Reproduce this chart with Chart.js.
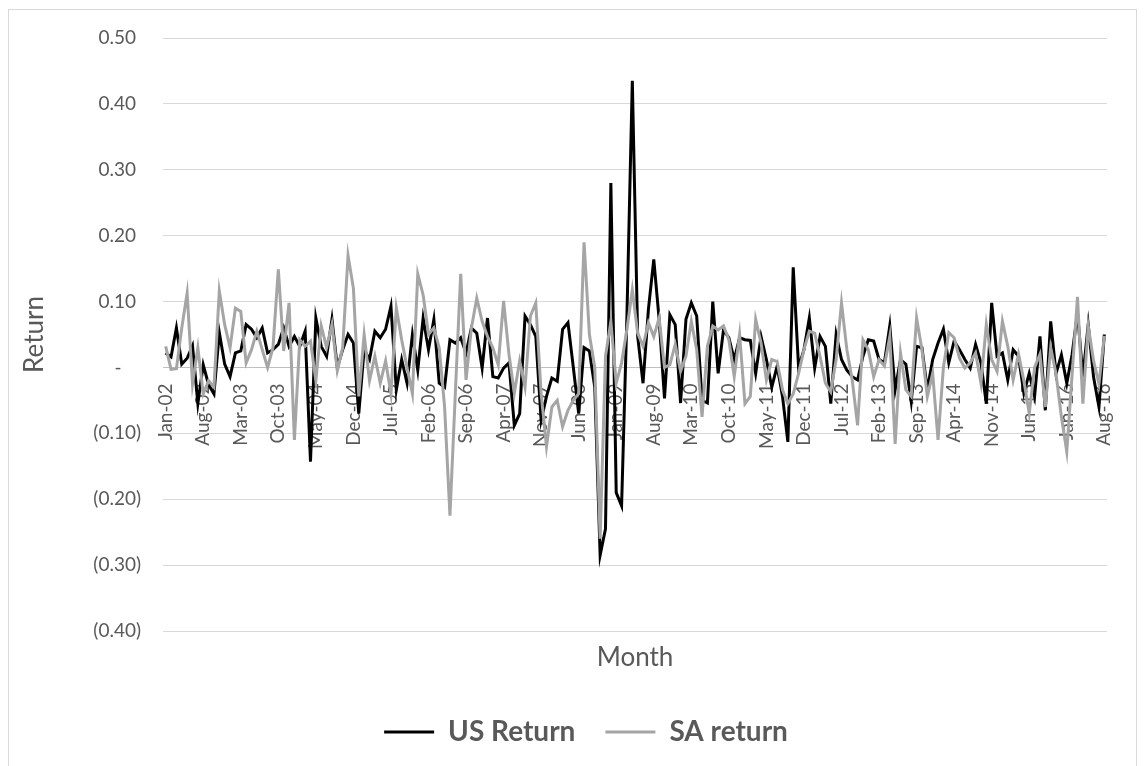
<!DOCTYPE html>
<html>
<head>
<meta charset="utf-8">
<script src="https://cdn.jsdelivr.net/npm/chart.js"></script>
<style>
  html, body { margin: 0; padding: 0; background: #ffffff; }
  #wrap { position: relative; width: 1148px; height: 766px; overflow: hidden; }
  #okvir { position: absolute; left: 8px; top: 9px; width: 1129px; height: 770px; border: 1px solid #d9d9d9; box-sizing: border-box; }
  canvas { position: absolute; left: 0; top: 0; }
</style>
</head>
<body>
<div id="wrap">
  <div id="okvir"></div>
  <canvas id="grafikon" width="1148" height="766"></canvas>
</div>
<script>
// Mjeseci i pocetna godina (Jan-02 ... Aug-16)
const mjeseci = ["Jan", "Feb", "Mar", "Apr", "May", "Jun", "Jul", "Aug", "Sep", "Oct", "Nov", "Dec"];
const pocetnaGodina = 2002;
const brojMjeseci = 176;

// Mjesecni prinosi - US
const usReturn = [
  0.022, 0.016, 0.060, 0.005, 0.014, 0.033, -0.055, 0.004, -0.026, -0.040, 0.053, 0.005,
  -0.014, 0.022, 0.025, 0.065, 0.058, 0.045, 0.060, 0.022, 0.027, 0.035, 0.060, 0.032,
  0.047, 0.032, 0.055, -0.143, 0.075, 0.032, 0.017, 0.073, 0.000, 0.027, 0.050, 0.037,
  -0.070, 0.027, 0.012, 0.055, 0.045, 0.058, 0.093, -0.034, 0.012, -0.024, 0.050, -0.004,
  0.075, 0.027, 0.073, -0.024, -0.030, 0.042, 0.037, 0.045, 0.022, 0.060, 0.052, -0.001,
  0.075, -0.014, -0.016, -0.001, 0.007, -0.088, -0.070, 0.078, 0.065, 0.047, -0.080, -0.044,
  -0.016, -0.021, 0.058, 0.068, 0.000, -0.070, 0.030, 0.025, -0.030, -0.285, -0.245, 0.280,
  -0.190, -0.210, 0.080, 0.435, 0.047, -0.024, 0.088, 0.164, 0.073, -0.047, 0.080, 0.065,
  -0.054, 0.073, 0.098, 0.078, -0.050, -0.054, 0.100, -0.009, 0.057, 0.045, 0.012, 0.045,
  0.042, 0.041, -0.009, 0.047, 0.012, -0.030, 0.002, -0.044, -0.113, 0.152, 0.000, 0.027,
  0.075, -0.001, 0.047, 0.032, -0.055, 0.050, 0.012, -0.004, -0.014, -0.019, 0.017, 0.042,
  0.040, 0.012, 0.007, 0.063, -0.034, 0.012, 0.005, -0.052, 0.032, 0.030, -0.034, 0.012,
  0.037, 0.058, 0.007, 0.040, 0.027, 0.012, -0.001, 0.035, 0.007, -0.055, 0.098, 0.017,
  0.022, -0.019, 0.027, 0.017, -0.039, -0.009, -0.044, 0.047, -0.065, 0.070, -0.009, 0.019,
  -0.024, 0.020, 0.083, -0.014, 0.065, -0.015, -0.060, 0.050
];

// Mjesecni prinosi - SA
const saReturn = [
  0.032, -0.003, -0.002, 0.060, 0.113, -0.025, 0.030, -0.040, -0.020, -0.030, 0.116, 0.065,
  0.030, 0.090, 0.085, 0.007, 0.027, 0.055, 0.027, 0.000, 0.030, 0.149, 0.025, 0.098,
  -0.110, 0.042, 0.032, 0.040, -0.020, 0.063, 0.030, 0.065, -0.005, 0.030, 0.170, 0.120,
  -0.044, 0.050, -0.020, 0.017, -0.024, 0.010, -0.040, 0.090, 0.042, 0.000, -0.040, 0.142,
  0.110, 0.050, 0.060, 0.030, -0.060, -0.225, -0.040, 0.142, -0.019, 0.060, 0.105, 0.070,
  0.047, 0.030, 0.004, 0.101, 0.020, -0.039, 0.010, -0.030, 0.078, 0.098, -0.040, -0.120,
  -0.060, -0.050, -0.090, -0.065, -0.050, -0.040, 0.190, 0.050, 0.000, -0.260, 0.017, 0.070,
  -0.024, 0.007, 0.058, 0.118, 0.052, 0.032, 0.068, 0.047, 0.075, 0.000, 0.004, 0.035,
  -0.006, 0.017, 0.070, 0.027, -0.075, 0.032, 0.063, 0.057, 0.063, 0.042, -0.014, 0.050,
  -0.055, -0.044, 0.073, 0.037, -0.019, 0.012, 0.009, -0.034, -0.055, -0.040, -0.009, 0.027,
  0.055, 0.052, 0.017, -0.024, -0.037, 0.012, 0.098, 0.027, -0.019, -0.088, 0.042, 0.027,
  -0.014, 0.012, 0.002, 0.047, -0.116, 0.022, -0.034, -0.044, 0.075, 0.027, -0.044, -0.009,
  -0.110, 0.000, 0.053, 0.045, 0.014, -0.001, 0.007, 0.022, -0.024, 0.065, 0.012, -0.006,
  0.070, 0.032, -0.019, 0.020, -0.020, -0.070, 0.000, 0.020, -0.060, 0.030, -0.010, -0.075,
  -0.128, -0.010, 0.107, -0.055, 0.063, 0.010, -0.025, 0.048
];

// Y osa: raspon i korak
const yMin = -0.4;
const yMax = 0.5;
const yKorak = 0.1;
const korakOznaka = 7; // svaki 7. mjesec ima oznaku

// Kategorije (npr. "Jan-02")
const kategorije = [];
for (let i = 0; i < brojMjeseci; i++) {
  const god = pocetnaGodina + Math.floor(i / 12);
  kategorije.push(mjeseci[i % 12] + "-" + String(god % 100).padStart(2, "0"));
}

const font = "Lato, 'Open Sans', sans-serif";
const siva = "#595959";

// Format kao u Excelu (racunovodstveni)
function formatY(v) {
  const r = Math.round(v * 100) / 100;
  if (r === 0) return "-    ";
  if (r < 0) return "(" + (-r).toFixed(2) + ")";
  return r.toFixed(2) + " ";
}

// Legenda u Excelu nije tacno u sredini - malo je pomjerimo udesno
const pomakLegende = {
  id: "pomakLegende",
  afterLayout(chart) {
    chart.legend.left += 28;
    chart.legend.right += 28;
  }
};

new Chart(document.getElementById("grafikon").getContext("2d"), {
  type: "line",
  data: {
    labels: kategorije,
    datasets: [
      {
        label: "US Return",
        data: usReturn,
        borderColor: "#000000",
        backgroundColor: "#000000",
        borderWidth: 3,
        pointRadius: 0,
        pointStyle: "line",
        tension: 0,
        order: 1
      },
      {
        label: "SA return",
        data: saReturn,
        borderColor: "#a5a5a5",
        backgroundColor: "#a5a5a5",
        borderWidth: 3,
        pointRadius: 0,
        pointStyle: "line",
        tension: 0,
        order: 0
      }
    ]
  },
  plugins: [pomakLegende],
  options: {
    responsive: false,
    devicePixelRatio: 1,
    animation: false,
    layout: { padding: { left: 9, right: 41, top: 38, bottom: 10 } },
    plugins: {
      tooltip: { enabled: false },
      legend: {
        position: "bottom",
        labels: {
          usePointStyle: true,
          pointStyleWidth: 50,
          padding: 30,
          color: siva,
          font: { family: font, size: 28, weight: "bold" },
          sort: (a, b) => a.datasetIndex - b.datasetIndex
        }
      }
    },
    scales: {
      x: {
        type: "category",
        position: { y: 0 },
        offset: true,
        grid: { display: false },
        border: { display: true, color: "#bfbfbf", width: 1, dash: [2, 2] },
        ticks: {
          autoSkip: false,
          minRotation: 90,
          maxRotation: 90,
          padding: 8,
          color: siva,
          font: { family: font, size: 19 },
          callback: function (val, idx) {
            return idx % korakOznaka === 0 ? this.getLabelForValue(val) : null;
          }
        }
      },
      x2: {
        type: "category",
        position: "bottom",
        offset: true,
        grid: { display: false },
        border: { display: false },
        ticks: { display: false },
        title: {
          display: true,
          text: "Month",
          color: siva,
          font: { family: font, size: 26 },
          padding: { top: 0, bottom: 15 }
        },
        afterFit: (skala) => { skala.height = 57; }
      },
      y: {
        min: yMin,
        max: yMax,
        grid: {
          drawTicks: false,
          color: (ctx) => (Math.abs(ctx.tick.value) < 1e-9 ? "rgba(0,0,0,0)" : "#d9d9d9"),
          lineWidth: 1
        },
        border: { display: false },
        ticks: {
          stepSize: yKorak,
          padding: 22,
          color: siva,
          font: { family: font, size: 19 },
          callback: (v) => formatY(v)
        },
        title: {
          display: true,
          text: "Return",
          color: siva,
          font: { family: font, size: 26 },
          padding: { top: 10, bottom: 0 }
        },
        afterFit: (skala) => { skala.width = 154; }
      }
    }
  }
});
</script>
</body>
</html>
